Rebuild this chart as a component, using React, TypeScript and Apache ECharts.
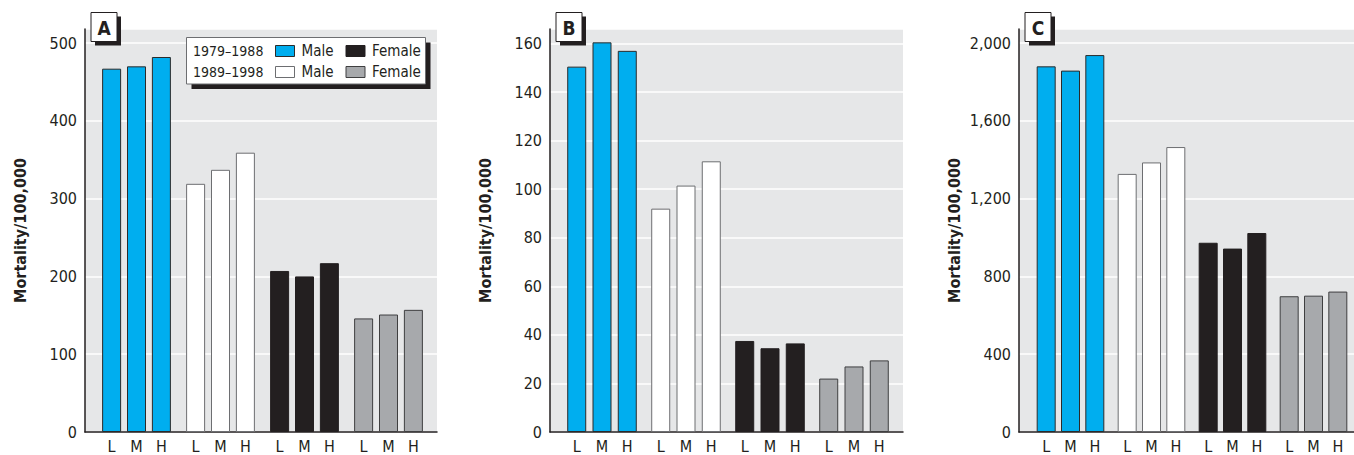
import React, { useEffect, useRef } from 'react';
import * as echarts from 'echarts';

const groups = ['1979–1988 Male', '1989–1998 Male', '1979–1988 Female', '1989–1998 Female'];
const levels = ['L', 'M', 'H'];
const groupColors = ['#00AEEF', '#FFFFFF', '#231F20', '#A7A9AC'];
const groupBorders = ['#2b2b2b', '#6d6e71', '#231F20', '#3f3f40'];

// Panel A
const aLow = [467, 319, 207, 146];
const aMid = [470, 337, 200, 151];
const aHigh = [482, 359, 217, 157];
// Panel B
const bLow = [150.5, 92, 37.5, 22];
const bMid = [160.5, 101.5, 34.5, 27];
const bHigh = [157, 111.5, 36.5, 29.5];
// Panel C
const cLow = [1880, 1327, 973, 698];
const cMid = [1858, 1386, 943, 701];
const cHigh = [1938, 1465, 1023, 722];

const yTitle = 'Mortality/100,000';
const legendPeriods = ['1979–1988', '1989–1998'];
const legendSexes = ['Male', 'Female'];

const FONT = '"DejaVu Sans Condensed", "Liberation Sans Narrow", Roboto, sans-serif';
const W = 1354;
const H = 455;
const TOP = 29;
const BOTTOM = 23;

const panels = [
  { letter: 'A', axisX: 85, grayRight: 437, barLeft: 94.5, barSpan: 336, max: 518, interval: 100, data: [aLow, aMid, aHigh], gap: '31%' },
  { letter: 'B', axisX: 550, grayRight: 903, barLeft: 560, barSpan: 336, max: 166, interval: 20, data: [bLow, bMid, bHigh], gap: '33%' },
  { letter: 'C', axisX: 1019, grayRight: 1354, barLeft: 1030, barSpan: 324, max: 2072, interval: 400, data: [cLow, cMid, cHigh], gap: '28%' },
];

export default function App() {
  const ref = useRef<HTMLDivElement>(null);
  useEffect(() => {
    if (!ref.current) return;
    const chart = echarts.init(ref.current, null, { renderer: 'svg' });
    const grid: any[] = [];
    const xAxis: any[] = [];
    const yAxis: any[] = [];
    const series: any[] = [];
    const graphic: any[] = [];

    panels.forEach((p, i) => {
      const bg = 2 * i;
      const bi = 2 * i + 1;
      grid.push({
        left: p.axisX, right: W - p.grayRight, top: TOP, bottom: BOTTOM,
        show: true, backgroundColor: '#E6E7E8', borderWidth: 0,
      });
      grid.push({ left: p.barLeft, width: p.barSpan, top: TOP, bottom: BOTTOM });
      xAxis.push({
        gridIndex: bg, type: 'category', data: [''],
        axisLine: { show: true, lineStyle: { color: '#231F20', width: 1.5 } },
        axisTick: { show: false }, axisLabel: { show: false }, splitLine: { show: false },
      });
      xAxis.push({ gridIndex: bi, type: 'category', data: groups, show: false });
      yAxis.push({
        gridIndex: bg, type: 'value', min: 0, max: p.max, interval: p.interval,
        axisLine: { show: true, lineStyle: { color: '#231F20', width: 1.5 } },
        axisTick: { show: false },
        splitLine: { show: true, lineStyle: { color: '#FFFFFF', width: 1.5 } },
        axisLabel: {
          margin: 8, fontSize: 16, color: '#231F20', fontFamily: FONT, showMaxLabel: false,
          formatter: (v: number) => (v % p.interval === 0 ? v.toLocaleString('en-US') : ''),
        },
        name: yTitle, nameLocation: 'middle', nameRotate: 90,
        nameGap: 57,
        nameTextStyle: { fontSize: 16, fontWeight: 'bold', color: '#231F20', fontFamily: FONT },
      });
      yAxis.push({ gridIndex: bi, type: 'value', min: 0, max: p.max, show: false });

      p.data.forEach((arr, j) => {
        series.push({
          type: 'bar', name: levels[j], xAxisIndex: bi, yAxisIndex: bi,
          barWidth: 19, barGap: p.gap,
          data: arr.map((v, k) => ({
            value: v,
            itemStyle: { color: groupColors[k], borderColor: groupBorders[k], borderWidth: 1 },
          })),
          label: {
            show: true, position: 'bottom', distance: 6, formatter: levels[j],
            fontSize: 16, color: '#231F20', fontFamily: FONT,
          },
        });
      });

      const bx = p.axisX + 6;
      graphic.push({
        type: 'group', z: 100,
        children: [
          { type: 'rect', z2: 1, shape: { x: bx + 4, y: 16.5, width: 26, height: 29 }, style: { fill: '#231F20', stroke: '#231F20', lineWidth: 0 } },
          { type: 'rect', z2: 2, shape: { x: bx, y: 12.5, width: 26, height: 29 }, style: { fill: '#FFFFFF', stroke: '#231F20', lineWidth: 1 } },
          {
            type: 'text', z2: 3, x: bx + 13, y: 27.5,
            style: { text: p.letter, fontSize: 19, fontWeight: 'bold', fill: '#231F20', fontFamily: FONT, align: 'center', verticalAlign: 'middle' },
          },
        ],
      });
    });

    // Legend in panel A
    const lx = 186.5, ly = 37.5, lw = 239, lh = 46.5;
    const legendChildren: any[] = [
      { type: 'rect', z2: 1, shape: { x: lx + 5, y: ly + 5, width: lw, height: lh }, style: { fill: '#231F20' } },
      { type: 'rect', z2: 2, shape: { x: lx, y: ly, width: lw, height: lh }, style: { fill: '#FFFFFF', stroke: '#6d6e71', lineWidth: 1 } },
    ];
    const rowY = [51, 72];
    legendPeriods.forEach((per, r) => {
      legendChildren.push({
        type: 'text', z2: 3, x: 193, y: rowY[r],
        style: { text: per, fontSize: 14, fill: '#231F20', fontFamily: FONT, align: 'left', verticalAlign: 'middle' },
      });
      legendSexes.forEach((sx, c) => {
        const gi = c * 2 + r;
        const sxX = c === 0 ? 275.5 : 346;
        legendChildren.push({
          type: 'rect', z2: 3, shape: { x: sxX, y: rowY[r] - 5.5, width: 19, height: 11 },
          style: { fill: groupColors[gi], stroke: groupBorders[gi], lineWidth: 1 },
        });
        legendChildren.push({
          type: 'text', z2: 3, x: sxX + 26, y: rowY[r],
          style: { text: sx, fontSize: 15, fill: '#231F20', fontFamily: FONT, align: 'left', verticalAlign: 'middle' },
        });
      });
    });
    graphic.push({ type: 'group', z: 100, children: legendChildren });

    chart.setOption({
      animation: false,
      backgroundColor: '#FFFFFF',
      grid, xAxis, yAxis, series, graphic,
    });
    return () => chart.dispose();
  }, []);
  return <div ref={ref} style={{ position: 'absolute', left: 0, top: 0, width: W, height: H }} />;
}
